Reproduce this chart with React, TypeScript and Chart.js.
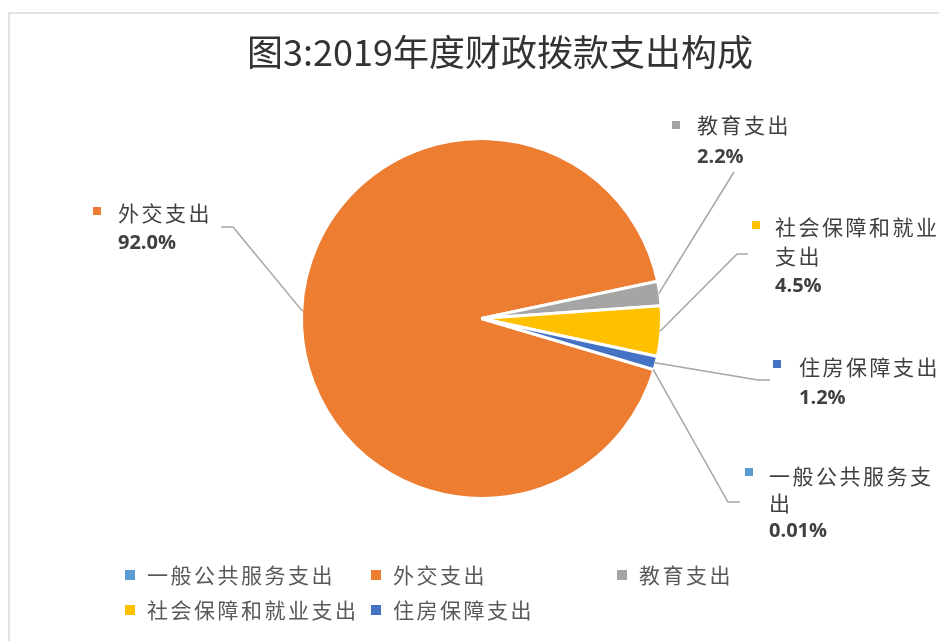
import React, { useEffect, useRef } from "react";
import { Chart, registerables } from "chart.js";

Chart.register(...registerables);

const title = "图3:2019年度财政拨款支出构成";
const categories = ["一般公共服务支出", "外交支出", "教育支出", "社会保障和就业支出", "住房保障支出"];
const shares = [0.01, 92.0, 2.2, 4.5, 1.2];
const shareLabels = ["0.01%", "92.0%", "2.2%", "4.5%", "1.2%"];
const labelLines = [["一般公共服务支", "出"], ["外交支出"], ["教育支出"], ["社会保障和就业", "支出"], ["住房保障支出"]];
const colors = ["#5B9BD5", "#ED7D31", "#A5A5A5", "#FFC000", "#4472C4"];

// placement of the data-label boxes (layout only)
const labelLayout = [
  { mx: 745, my: 468, tx: 769, ty: 476, gap: 27, leader: [[740, 502], [728, 502]] },
  { mx: 93, my: 207, tx: 118, ty: 213, gap: 29, leader: [[221, 227], [233, 227]] },
  { mx: 672, my: 121, tx: 697, ty: 125, gap: 31, leader: [[734, 172]] },
  { mx: 752, my: 221, tx: 775, ty: 227, gap: 29, leader: [[748, 254], [737, 254]] },
  { mx: 773, my: 360, tx: 799, ty: 367, gap: 30, leader: [[770, 380], [758, 380]] },
];

const CJK = '"Noto Sans CJK SC", "Noto Sans", sans-serif';

const decorPlugin = {
  id: "decor",
  beforeDraw(chart: any) {
    const ctx = chart.ctx;
    ctx.save();
    ctx.fillStyle = "#ffffff";
    ctx.fillRect(0, 0, chart.width, chart.height);
    ctx.strokeStyle = "#D9D9D9";
    ctx.lineWidth = 1.5;
    ctx.beginPath();
    ctx.moveTo(9, chart.height + 5);
    ctx.lineTo(9, 13);
    ctx.lineTo(chart.width + 5, 13);
    ctx.stroke();
    // title
    ctx.fillStyle = "#333333";
    ctx.font = `36px ${CJK}`;
    ctx.textAlign = "center";
    ctx.textBaseline = "middle";
    ctx.fillText(title, 500, 52);
    ctx.restore();
  },
  afterDraw(chart: any) {
    const ctx = chart.ctx;
    const meta = chart.getDatasetMeta(0);
    const ds = chart.data.datasets[0];
    ctx.save();
    // leader lines
    meta.data.forEach((arc: any, i: number) => {
      const lay = labelLayout[i];
      const mid = (arc.startAngle + arc.endAngle) / 2;
      const R = arc.outerRadius - 1;
      const ax = arc.x + Math.cos(mid) * R;
      const ay = arc.y + Math.sin(mid) * R;
      ctx.strokeStyle = "#A6A6A6";
      ctx.lineWidth = 1.5;
      ctx.beginPath();
      ctx.moveTo(lay.leader[0][0], lay.leader[0][1]);
      for (let k = 1; k < lay.leader.length; k++) ctx.lineTo(lay.leader[k][0], lay.leader[k][1]);
      ctx.lineTo(ax, ay);
      ctx.stroke();
    });
    // data labels
    meta.data.forEach((_arc: any, i: number) => {
      const lay = labelLayout[i];
      ctx.fillStyle = ds.backgroundColor[i];
      ctx.fillRect(lay.mx, lay.my, 8, 8);
      ctx.fillStyle = "#404040";
      ctx.textAlign = "left";
      ctx.textBaseline = "middle";
      ctx.font = `21px ${CJK}`;
      (ctx as any).letterSpacing = "2.5px";
      const lines = labelLines[i];
      lines.forEach((t, k) => ctx.fillText(t, lay.tx, lay.ty + k * lay.gap));
      (ctx as any).letterSpacing = "0px";
      ctx.font = `bold 20px "Open Sans", "Liberation Sans", sans-serif`;
      ctx.fillText(shareLabels[i], lay.tx, lay.ty + lines.length * lay.gap + 1);
    });
    // legend
    chart.data.labels.forEach((lab: string, i: number) => {
      const col = i % 3;
      const row = Math.floor(i / 3);
      const x = 125 + col * 246;
      const y = 575 + row * 35;
      ctx.fillStyle = ds.backgroundColor[i];
      ctx.fillRect(x, y - 5, 10, 10);
      ctx.fillStyle = "#595959";
      ctx.font = `21px ${CJK}`;
      (ctx as any).letterSpacing = "2.5px";
      ctx.textAlign = "left";
      ctx.textBaseline = "middle";
      ctx.fillText(lab, x + 22, y);
      (ctx as any).letterSpacing = "0px";
    });
    ctx.restore();
  },
};

export default function App() {
  const ref = useRef<HTMLCanvasElement | null>(null);
  useEffect(() => {
    if (!ref.current) return;
    const chart = new Chart(ref.current, {
      type: "pie",
      data: {
        labels: categories,
        datasets: [
          {
            data: shares,
            backgroundColor: colors,
            borderColor: "#ffffff",
            borderWidth: 3,
          },
        ],
      },
      options: {
        responsive: false,
        animation: false,
        rotation: 106.5,
        radius: 180,
        layout: { padding: { left: 124, right: 100, top: 100, bottom: 104 } },
        plugins: {
          legend: { display: false },
          title: { display: false },
          tooltip: { enabled: false },
        },
        events: [],
      },
      plugins: [decorPlugin],
    });
    return () => chart.destroy();
  }, []);
  return (
    <div style={{ position: "fixed", left: 0, top: 0, width: 939, height: 641, background: "#fff" }}>
      <canvas ref={ref} width={939} height={641} style={{ display: "block" }} />
    </div>
  );
}
